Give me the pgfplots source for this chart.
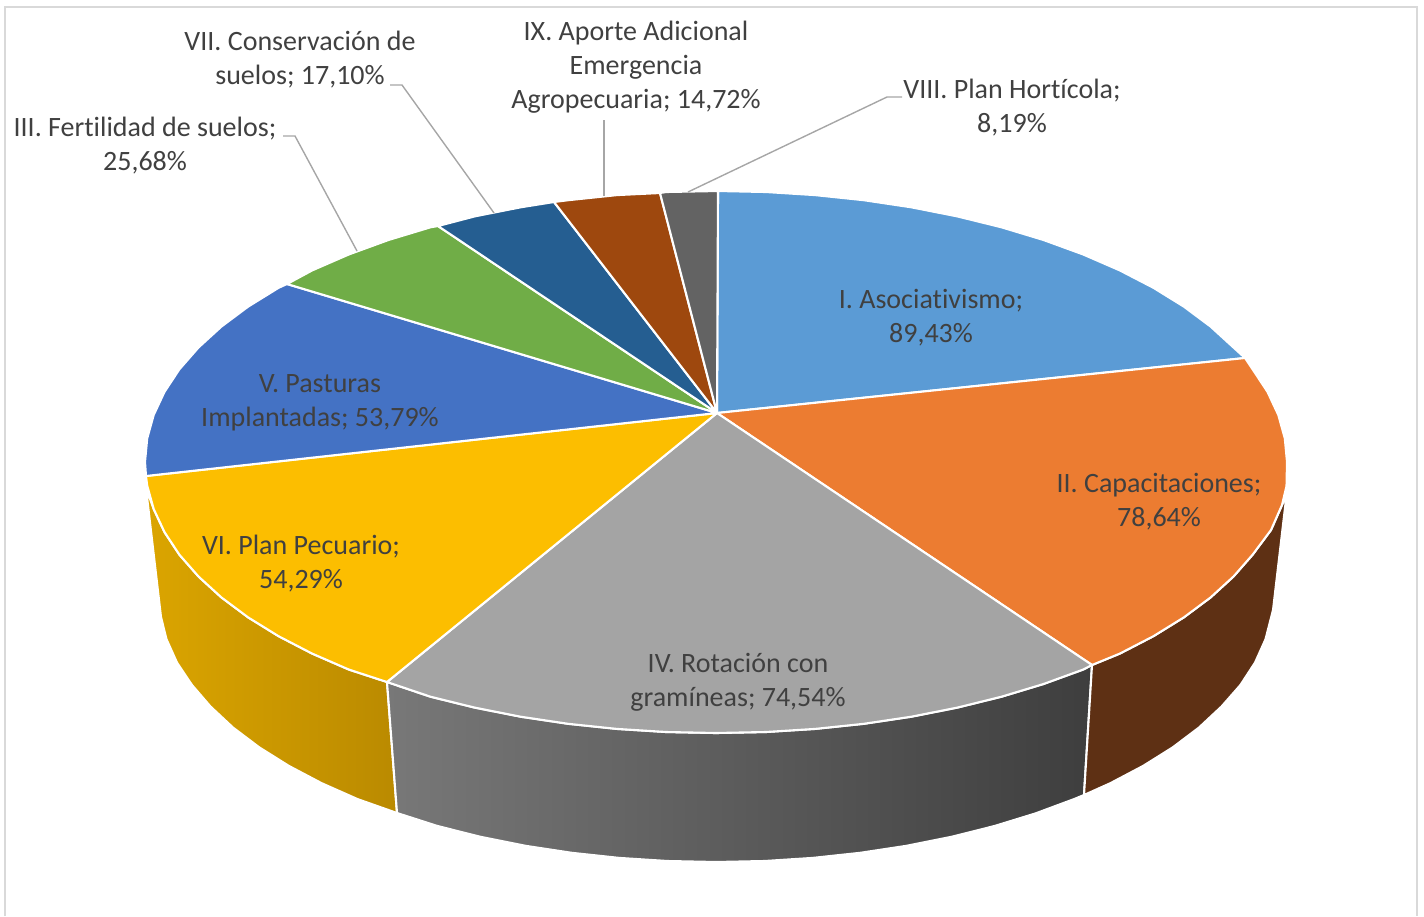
\documentclass[border=0pt]{standalone}
\usepackage{pgfplots}
\pgfplotsset{compat=1.18}
\usepackage{fontspec}
\setmainfont[Ligatures={NoCommon}]{Carlito}
\definecolor{txt}{HTML}{404040}
\definecolor{lead}{HTML}{A6A6A6}
\definecolor{framec}{HTML}{D9D9D9}
\definecolor{ylL}{RGB}{219,165,0}
\definecolor{ylR}{RGB}{186,138,0}
\definecolor{grL}{RGB}{120,120,120}
\definecolor{grR}{RGB}{62,62,62}
\definecolor{brS}{RGB}{94,48,20}
\definecolor{cI}{RGB}{91,155,213}
\definecolor{cII}{RGB}{236,124,49}
\definecolor{cIV}{RGB}{164,164,164}
\definecolor{cVI}{RGB}{252,190,0}
\definecolor{cV}{RGB}{68,114,196}
\definecolor{cIII}{RGB}{112,173,71}
\definecolor{cVII}{RGB}{37,94,145}
\definecolor{cIX}{RGB}{158,72,14}
\definecolor{cVIII}{RGB}{99,99,99}
\tikzset{
  slice/.style={draw=white,line width=1.05pt,line join=round},
  lab/.style={font=\fontsize{14}{17}\selectfont,text=txt,align=center,anchor=center,inner sep=0pt}}
\begin{document}
\begin{tikzpicture}
\path[use as bounding box] (0,0) rectangle (712pt,458pt);
\begin{axis}[at={(0pt,0pt)},anchor=south west,width=712pt,height=458pt,scale only axis,hide axis,clip=false,
  xmin=0,xmax=1424,ymin=0,ymax=916,y dir=reverse]
% chart frame
\addplot[framec,line width=1pt] coordinates {(5,916)(5,7)(1417,7)(1417,916)};
% side walls
\addplot[slice,shade,left color=ylL,right color=ylR] coordinates {
(146,488)(153.7,509)(164.5,532.1)(179.4,554.7)(198.5,576.5)(221.5,597.5)(248.2,617.4)(278.6,636.2)(312.2,653.6)(349,669.6)(387,682)
(397,813)(357.6,799.1)(321.7,783.2)(288.9,765.9)(259.2,747.3)(233,727.5)(210.5,706.5)(192,685)(177,662.6)(166.5,639.2)(161,617)} --cycle;
\addplot[slice,shade,left color=grL,right color=grR] coordinates {
(387,682)(430.5,696.7)(474.7,707.6)(520.7,716.7)(568.2,723.8)(616.9,728.9)(666.2,732)(716,733)(765.8,732)(815.1,728.9)(863.8,723.8)(911.3,716.7)(957.3,707.6)(1001.5,696.7)(1043.5,684)(1083,669.6)(1092,665)
(1084,795)(1074,799.1)(1035.5,813.4)(994.5,826)(951.4,836.8)(906.5,845.8)(860.2,852.8)(812.7,857.9)(764.6,861)(716,862)(667.4,861)(619.3,857.9)(571.8,852.8)(525.5,845.8)(480.6,836.8)(437.5,826)(397,813)} --cycle;
\addplot[slice,fill=brS] coordinates {
(1092,665)(1119.8,653.6)(1153.4,636.2)(1183.8,617.4)(1210.5,597.5)(1233.5,576.5)(1252.6,554.7)(1271,530)(1282,505)(1286.5,495)
(1273,610)(1265.5,639.2)(1255,662.6)(1240.4,685)(1221.5,706.5)(1199,727.5)(1172.8,747.3)(1143.1,765.9)(1110.3,783.2)(1084,795)} --cycle;
% top slices
\addplot[slice,fill=cI] coordinates {
(717,413)(718,191)(765.8,192)(815.1,195.1)(863.8,200.2)(911.3,207.3)(957.3,216.4)(1001.5,227.3)(1043.5,240)(1083,254.4)(1119.8,270.4)(1153.4,287.8)(1183.8,306.6)(1210.5,326.5)(1233.5,347.5)(1245,358)} --cycle;
\addplot[slice,fill=cII] coordinates {
(717,413)(1245,358)(1252.6,369.3)(1267.5,391.9)(1278.3,415)(1284.8,438.4)(1287,462)(1286.5,486)(1282,505)(1271,530)(1252.6,554.7)(1233.5,576.5)(1210.5,597.5)(1183.8,617.4)(1153.4,636.2)(1119.8,653.6)(1092,665)} --cycle;
\addplot[slice,fill=cIV] coordinates {
(717,413)(1092,665)(1083,669.6)(1043.5,684)(1001.5,696.7)(957.3,707.6)(911.3,716.7)(863.8,723.8)(815.1,728.9)(765.8,732)(716,733)(666.2,732)(616.9,728.9)(568.2,723.8)(520.7,716.7)(474.7,707.6)(430.5,696.7)(387,682)} --cycle;
\addplot[slice,fill=cVI] coordinates {
(717,413)(387,682)(349,669.6)(312.2,653.6)(278.6,636.2)(248.2,617.4)(221.5,597.5)(198.5,576.5)(179.4,554.7)(164.5,532.1)(153.7,509)(147.2,485.6)(146,476)} --cycle;
\addplot[slice,fill=cV] coordinates {
(717,413)(146,476)(145,462)(147.2,438.4)(153.7,415)(164.5,391.9)(179.4,369.3)(198.5,347.5)(221.5,326.5)(248.2,306.6)(278.6,287.8)(287,284)} --cycle;
\addplot[slice,fill=cIII] coordinates {
(717,413)(287,284)(312.2,270.4)(349,254.4)(388.5,240)(430.5,227.3)(438,226)} --cycle;
\addplot[slice,fill=cVII] coordinates {
(717,413)(438,226)(474.7,216.4)(520.7,207.3)(554,202)} --cycle;
\addplot[slice,fill=cIX] coordinates {
(717,413)(554,202)(568.2,200.2)(616.9,195.1)(660,193)} --cycle;
\addplot[slice,fill=cVIII] coordinates {
(717,413)(660,193)(666.2,192)(718,191)} --cycle;
% leader lines
\addplot[lead,line width=0.7pt] coordinates {(283,136)(295,136)(357,251)};
\addplot[lead,line width=0.7pt] coordinates {(390,85)(402,85)(494,213)};
\addplot[lead,line width=0.7pt] coordinates {(604,120)(604,196)};
\addplot[lead,line width=0.7pt] coordinates {(902,97)(887,97)(688,192)};
% labels
\node[lab] at (axis cs:931,318) {I. Asociativismo;\\89,43\%};
\node[lab] at (axis cs:1159,502) {II. Capacitaciones;\\78,64\%};
\node[lab] at (axis cs:738,682.5) {IV. Rotación con\\gramíneas; 74,54\%};
\node[lab] at (axis cs:301,564) {VI. Plan Pecuario;\\54,29\%};
\node[lab] at (axis cs:320,403) {V. Pasturas\\Implantadas; 53,79\%};
\node[lab] at (axis cs:145,146) {III. Fertilidad de suelos;\\25,68\%};
\node[lab] at (axis cs:300,60) {VII. Conservación de\\suelos; 17,10\%};
\node[lab] at (axis cs:636,67) {IX. Aporte Adicional\\Emergencia\\Agropecuaria; 14,72\%};
\node[lab] at (axis cs:1012,108) {VIII. Plan Hortícola;\\8,19\%};
\end{axis}
\end{tikzpicture}
\end{document}
